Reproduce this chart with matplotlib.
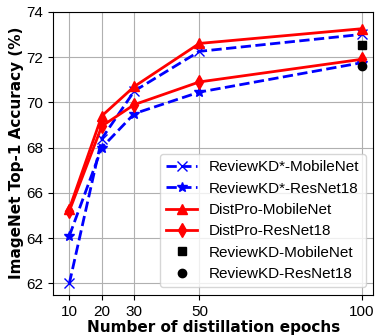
import matplotlib
matplotlib.use("Agg")
import matplotlib.pyplot as plt

plt.rcParams['font.family'] = ['Liberation Sans', 'DejaVu Sans']

# 증류 에폭 수
epochs = [10, 20, 30, 50, 100]

reviewkd_star_mobilenet = [62.0, 68.4, 70.5, 72.25, 73.0]
reviewkd_star_resnet18 = [64.1, 68.0, 69.5, 70.45, 71.75]
distpro_mobilenet = [65.3, 69.4, 70.7, 72.6, 73.25]
distpro_resnet18 = [65.2, 68.95, 69.9, 70.9, 71.9]

# 원래 ReviewKD (100 epoch)
reviewkd_epoch = [100]
reviewkd_mobilenet = [72.55]
reviewkd_resnet18 = [71.6]

fig, ax = plt.subplots(figsize=(3.79, 3.35), dpi=100)

ax.plot(epochs, reviewkd_star_mobilenet, "b--", marker="x", lw=2, ms=7, label="ReviewKD*-MobileNet")
ax.plot(epochs, reviewkd_star_resnet18, "b--", marker="*", lw=2, ms=7, label="ReviewKD*-ResNet18")
ax.plot(epochs, distpro_mobilenet, "r-", marker="^", lw=2, ms=7, label="DistPro-MobileNet")
ax.plot(epochs, distpro_resnet18, "r-", marker="d", lw=2, ms=7, label="DistPro-ResNet18")
ax.plot(reviewkd_epoch, reviewkd_mobilenet, "ks", ms=6, label="ReviewKD-MobileNet")
ax.plot(reviewkd_epoch, reviewkd_resnet18, "ko", ms=6, label="ReviewKD-ResNet18")

ax.set_xticks(epochs)
ax.set_yticks(range(62, 75, 2))
ax.set_xlim(5, 103.5)
ax.set_ylim(61.5, 74)
ax.tick_params(labelsize=11)
ax.grid(True)
ax.set_xlabel("Number of distillation epochs", fontsize=11, fontweight="bold",
              family="DejaVu Sans", labelpad=1)
ax.set_ylabel("ImageNet Top-1 Accuracy (%)", fontsize=11, fontweight="bold",
              family="DejaVu Sans", labelpad=2)
ax.legend(loc="lower right", fontsize=11, handlelength=2.0, labelspacing=0.48)

fig.subplots_adjust(left=0.14, right=0.985, top=0.965, bottom=0.12)
fig.savefig("out.png")
